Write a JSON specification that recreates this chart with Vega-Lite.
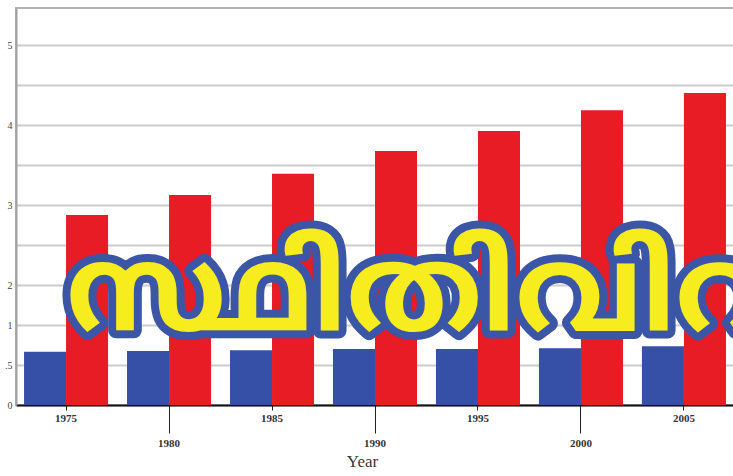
{
  "$schema": "https://vega.github.io/schema/vega-lite/v6.json",
  "width": 718,
  "height": 397,
  "autosize": {"type": "none"},
  "padding": {"left": 16, "top": 8, "right": 0, "bottom": 71},
  "background": "white",
  "config": {"view": {"stroke": "#b4b4b4", "strokeWidth": 2}},
  "layer": [
    {
      "data": {"values": [
        {"year": 1975, "series": "A", "value": 1.33},
        {"year": 1975, "series": "B", "value": 4.75},
        {"year": 1980, "series": "A", "value": 1.35},
        {"year": 1980, "series": "B", "value": 5.25},
        {"year": 1985, "series": "A", "value": 1.37},
        {"year": 1985, "series": "B", "value": 5.78},
        {"year": 1990, "series": "A", "value": 1.4},
        {"year": 1990, "series": "B", "value": 6.35},
        {"year": 1995, "series": "A", "value": 1.4},
        {"year": 1995, "series": "B", "value": 6.85},
        {"year": 2000, "series": "A", "value": 1.42},
        {"year": 2000, "series": "B", "value": 7.37},
        {"year": 2005, "series": "A", "value": 1.47},
        {"year": 2005, "series": "B", "value": 7.8}
      ]},
      "mark": {"type": "bar"},
      "encoding": {
        "x": {
          "field": "year",
          "type": "ordinal",
          "scale": {"paddingInner": 0.184, "paddingOuter": 0.078},
          "axis": {
            "labelAngle": 0,
            "labelFont": "Liberation Serif",
            "labelFontSize": 11,
            "labelFontWeight": "bold",
            "labelColor": "#333333",
            "domainColor": "#111111",
            "domainWidth": 2,
            "tickColor": "#222222",
            "tickWidth": 1,
            "tickSize": {"condition": {"test": "datum.value % 10 == 0", "value": 28}, "value": 5},
            "labelPadding": {"condition": {"test": "datum.value % 10 == 0", "value": 4}, "value": 2},
            "title": "Year",
            "titleFont": "Liberation Serif",
            "titleFontSize": 17,
            "titleFontWeight": "normal",
            "titleColor": "#3a3a3a",
            "titlePadding": 5,
            "titleX": 346
          }
        },
        "xOffset": {"field": "series", "sort": ["A", "B"], "scale": {"paddingInner": 0, "paddingOuter": 0}},
        "y": {
          "field": "value",
          "type": "quantitative",
          "scale": {"domain": [0, 9.925], "nice": false},
          "axis": {
            "values": [0, 1, 2, 3, 4, 5, 6, 7, 8, 9],
            "labelExpr": "datum.value == 0 ? '0' : datum.value == 1 ? '.5' : datum.value == 2 ? '1' : datum.value == 3 ? '2' : datum.value == 5 ? '3' : datum.value == 7 ? '4' : datum.value == 9 ? '5' : ''",
            "grid": true,
            "gridColor": "#cccccc",
            "gridWidth": 2,
            "domainColor": "#a0a0a0",
            "domainWidth": 2,
            "ticks": false,
            "labelFont": "Liberation Serif",
            "labelFontSize": 10,
            "labelColor": "#444444",
            "labelPadding": 4,
            "title": null
          }
        },
        "color": {
          "field": "series",
          "type": "nominal",
          "scale": {"domain": ["A", "B"], "range": ["#3550a6", "#e81c24"]},
          "legend": null
        }
      }
    },
    {
      "data": {"values": [{"label": "സ്ഥിതിവിവരക്കണക്ക്"}]},
      "mark": {"type": "text", "align": "left", "baseline": "middle", "fontSize": 120, "fontWeight": "bold", "font": "Noto Sans Malayalam", "stroke": "#3b55a7", "strokeWidth": 16, "strokeJoin": "round", "fill": "#3b55a7"},
      "encoding": {
        "x": {"datum": 1975, "type": "ordinal"},
        "y": {"datum": 2.75, "type": "quantitative"},
        "text": {"field": "label"}
      }
    },
    {
      "data": {"values": [{"label": "സ്ഥിതിവിവരക്കണക്ക്"}]},
      "mark": {"type": "text", "align": "left", "baseline": "middle", "fontSize": 120, "fontWeight": "bold", "font": "Noto Sans Malayalam", "fill": "#f6ec1e"},
      "encoding": {
        "x": {"datum": 1975, "type": "ordinal"},
        "y": {"datum": 2.75, "type": "quantitative"},
        "text": {"field": "label"}
      }
    }
  ]
}
